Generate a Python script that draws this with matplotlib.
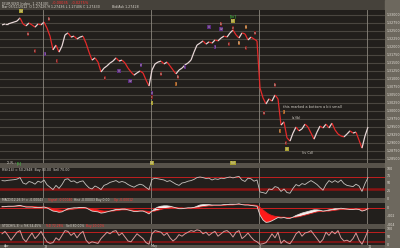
import numpy as np
import matplotlib
matplotlib.use("Agg")
import matplotlib.pyplot as plt
from matplotlib.collections import LineCollection

# hourly closes
close = [1.3269, 1.3272, 1.3272, 1.3275, 1.3278, 1.3281, 1.3291, 1.3272, 1.3266, 1.3275,
         1.3269, 1.3262, 1.3272, 1.3269, 1.3278, 1.3259, 1.3234, 1.3191, 1.3206, 1.3184,
         1.3203, 1.3238, 1.3244, 1.3231, 1.3234, 1.3225, 1.3231, 1.3234, 1.3212, 1.3184,
         1.3159, 1.3166, 1.3153, 1.3122, 1.3134, 1.3141, 1.3150, 1.3156, 1.3166, 1.3156,
         1.3159, 1.3150, 1.3134, 1.3122, 1.3112, 1.3119, 1.3125, 1.3119, 1.3097, 1.3078,
         1.3128, 1.3147, 1.3153, 1.3156, 1.3147, 1.3153, 1.3141, 1.3128, 1.3116, 1.3128,
         1.3134, 1.3144, 1.3150, 1.3159, 1.3184, 1.3206, 1.3212, 1.3219, 1.3209, 1.3216,
         1.3212, 1.3222, 1.3219, 1.3228, 1.3234, 1.3231, 1.3244, 1.3253, 1.3238, 1.3228,
         1.3244, 1.3241, 1.3222, 1.3231, 1.3225, 1.3219, 1.3072, 1.3041, 1.3022, 1.3038,
         1.3031, 1.3050, 1.3038, 1.2956, 1.2966, 1.2916, 1.2906, 1.2931, 1.2950, 1.2938,
         1.2944, 1.2959, 1.2950, 1.2931, 1.2912, 1.2934, 1.2953, 1.2947, 1.2959, 1.2947,
         1.2962, 1.2941, 1.2928, 1.2922, 1.2919, 1.2928, 1.2938, 1.2931, 1.2934, 1.2909,
         1.2884, 1.2922, 1.2950]

rsi = [58, 57, 59, 60, 61, 63, 68, 50, 46, 55,
       52, 46, 56, 52, 60, 44, 36, 28, 42, 32,
       45, 62, 64, 55, 57, 50, 55, 57, 44, 34,
       30, 40, 35, 28, 42, 46, 52, 55, 58, 52,
       55, 52, 45, 40, 36, 42, 46, 43, 35, 28,
       62, 66, 64, 62, 60, 55, 58, 52, 46, 42,
       50, 52, 56, 58, 62, 68, 70, 68, 65, 66,
       60, 64, 62, 66, 65, 68, 70, 67, 70, 72,
       60, 55, 66, 64, 56, 60, 20, 18, 15, 30,
       28, 38, 35, 22, 30, 18, 16, 32, 45, 40,
       48, 45, 52, 58, 52, 45, 35, 26, 45, 58,
       52, 58, 52, 60, 48, 42, 40, 38, 46, 40,
       22, 48, 68]

macd = [.0003, .0003, .0004, .0004, .0004, .0005, .0006, .0004, .0002, .0002,
        .0002, .0001, .0001, .0001, .0002, .0000, -.0004, -.0008, -.0009, -.0011,
        -.0010, -.0006, -.0002, -.0001, .0000, .0000, .0001, .0001, .0000, -.0004,
        -.0008, -.0009, -.0010, -.0013, -.0012, -.0010, -.0008, -.0006, -.0004, -.0004,
        -.0003, -.0003, -.0005, -.0007, -.0009, -.0009, -.0008, -.0008, -.0011, -.0015,
        -.0008, -.0002, .0002, .0004, .0005, .0005, .0004, .0002, .0000, -.0002,
        -.0002, -.0001, .0000, .0000, .0001, .0004, .0007, .0008, .0008, .0008,
        .0007, .0007, .0007, .0007, .0008, .0008, .0009, .0009, .0009, .0010,
        .0008, .0007, .0007, .0006, .0005, .0004, -.0018, -.0030, -.0036, -.0035,
        -.0032, -.0028, -.0024, -.0025, -.0024, -.0026, -.0026, -.0023, -.0019, -.0016,
        -.0013, -.0011, -.0009, -.0007, -.0005, -.0005, -.0006, -.0008, -.0007, -.0005,
        -.0004, -.0002, -.0002, -.0001, -.0002, -.0003, -.0004, -.0004, -.0003, -.0004,
        -.0008, -.0006, -.0002]

signal = [.0002, .0003, .0003, .0003, .0004, .0004, .0004, .0004, .0004, .0003,
          .0003, .0003, .0002, .0002, .0002, .0001, .0000, -.0002, -.0004, -.0005,
          -.0006, -.0006, -.0005, -.0004, -.0003, -.0002, -.0001, .0000, .0000, -.0001,
          -.0002, -.0004, -.0005, -.0007, -.0008, -.0008, -.0008, -.0008, -.0007, -.0006,
          -.0005, -.0005, -.0005, -.0005, -.0006, -.0007, -.0007, -.0007, -.0008, -.0009,
          -.0009, -.0008, -.0006, -.0004, -.0002, -.0001, .0000, .0001, .0001, .0000,
          .0000, -.0001, -.0001, -.0001, .0000, .0000, .0002, .0003, .0004, .0005,
          .0005, .0006, .0006, .0006, .0006, .0007, .0007, .0007, .0008, .0008,
          .0008, .0008, .0008, .0007, .0007, .0006, .0001, -.0005, -.0011, -.0016,
          -.0019, -.0021, -.0022, -.0023, -.0023, -.0024, -.0024, -.0024, -.0023, -.0022,
          -.0020, -.0018, -.0016, -.0014, -.0012, -.0010, -.0009, -.0009, -.0008, -.0008,
          -.0007, -.0006, -.0005, -.0004, -.0004, -.0004, -.0004, -.0004, -.0004, -.0004,
          -.0005, -.0005, -.0004]

stoch = [70, 85, 60, 30, 55, 80, 90, 40, 20, 50,
         75, 40, 60, 85, 50, 20, 10, 15, 45, 30,
         60, 90, 85, 60, 75, 45, 70, 85, 30, 10,
         20, 15, 10, 40, 60, 80, 70, 85, 90, 60,
         75, 50, 25, 20, 45, 70, 55, 40, 15, 5,
         70, 90, 85, 80, 60, 75, 45, 25, 40, 65,
         55, 70, 80, 90, 85, 95, 90, 70, 80, 60,
         75, 85, 55, 70, 85, 90, 75, 50, 80, 90,
         40, 55, 75, 50, 30, 20, 5, 8, 15, 40,
         70, 45, 80, 10, 30, 15, 8, 35, 70, 85,
         55, 75, 80, 90, 65, 40, 15, 35, 80, 60,
         85, 70, 90, 45, 25, 30, 20, 40, 75, 30,
         5, 45, 90]

price_ticks = [1.3300 - 0.0025 * k for k in range(19)]
week_breaks = [13.7, 49.7, 85.7, 121.7]
date_labels = ["Apr", "13", "May", "4", "11"]
date_pos = [0.5, 13.7, 49.7, 85.7, 121.7]

W, H = 400, 248
BG = "#221f1c"
fig = plt.figure(figsize=(4, 2.48), dpi=100, facecolor="#57524a")


def px_axes(x0, y0, x1, y1):
    ax = fig.add_axes([x0 / W, 1 - y1 / H, (x1 - x0) / W, (y1 - y0) / H])
    ax.set_facecolor(BG)
    for s in ax.spines.values():
        s.set_visible(False)
    return ax


def ftext(x, y, s, **kw):
    kw.setdefault("fontsize", 2.7)
    kw.setdefault("color", "#d8d4cc")
    kw.setdefault("va", "center")
    fig.text(x / W, 1 - y / H, s, **kw)


def right_scale(ax, ticks, labels):
    ax.yaxis.tick_right()
    ax.set_yticks(ticks)
    ax.set_yticklabels(labels, fontsize=2.3, color="#e4e0d8")
    ax.tick_params(axis="y", length=0, pad=1.5)
    ax.set_xticks([])


# header strip and right scale strip
fig.patches.append(plt.Rectangle((0, 1 - 10 / H), 1, 10 / H, transform=fig.transFigure,
                                 color="#46423b", zorder=-2))
fig.patches.append(plt.Rectangle((385 / W, 0), 15 / W, 1, transform=fig.transFigure,
                                 color="#6d685e", zorder=-1))

n = len(close)
x = np.arange(n)
xlim = (-0.67, 127.67)

# ---- price panel
ax = px_axes(0, 10, 385, 163)
ax.set_xlim(*xlim)
top = 1.3300 + 5 * 0.0003125
ax.set_ylim(top - 153 * 0.0003125, top)
for p in price_ticks:
    ax.axhline(p, color="#4a4640", lw=0.8, zorder=1)
for wb in week_breaks:
    ax.axvline(wb, color="#8c877e", lw=0.6, zorder=1)
pts = np.column_stack([x, close])
segs = np.stack([pts[:-1], pts[1:]], axis=1)
cols = ["#e52a2a" if close[i + 1] < close[i] else "#e6d6d6" for i in range(n - 1)]
ax.add_collection(LineCollection(segs, colors=cols, linewidths=0.9, zorder=3))
right_scale(ax, price_ticks, [f"{p:.5f}" for p in price_ticks])

# ---- RSI
ax2 = px_axes(0, 168, 385, 198)
ax2.set_xlim(*xlim)
ax2.set_ylim(0, 100)
ax2.axhline(70, color="#c02020", lw=0.7)
ax2.axhline(30, color="#8a1414", lw=1.8)
for wb in week_breaks:
    ax2.axvline(wb, color="#8c877e", lw=0.6)
ax2.plot(x, rsi, color="#c8c4c0", lw=0.6)
right_scale(ax2, [100, 75, 50, 25, 0], ["100", "75", "50", "25", "0"])

# ---- MACD
ax3 = px_axes(0, 203, 385, 224)
ax3.set_xlim(*xlim)
ax3.set_ylim(-0.0040, 0.0012)
ax3.axhline(0, color="#d02020", lw=0.7)
for wb in week_breaks:
    ax3.axvline(wb, color="#8c877e", lw=0.6)
m = np.array(macd)
sg = np.array(signal)
ax3.fill_between(x, m, sg, where=m < sg, color="#ff1a1a", lw=0, interpolate=True)
ax3.fill_between(x, m, sg, where=m >= sg, color="#f4f0ee", lw=0, interpolate=True)
ax3.plot(x, sg, color="#e02020", lw=0.6)
ax3.plot(x, m, color="#dedad6", lw=0.6)
right_scale(ax3, [0, -0.002, -0.004], ["0", "-.002", "-.004"])

# ---- Stochastic
ax4 = px_axes(0, 229, 385, 245)
ax4.set_xlim(*xlim)
ax4.set_ylim(0, 100)
ax4.axhline(80, color="#c02020", lw=0.7)
ax4.axhline(20, color="#8a1414", lw=1.2)
for wb in week_breaks:
    ax4.axvline(wb, color="#8c877e", lw=0.6)
ax4.plot(x, stoch, color="#d49a9a", lw=0.7)
right_scale(ax4, [100, 50, 0], ["100", "50", "0"])
for lab, pos in zip(date_labels, date_pos):
    ftext((pos + 0.67) * 3, 246.5, lab, fontsize=2.4, ha="left")

# ---- texts
ftext(2, 3, "[EUR/USD Index  1.27430]", ha="left", fontsize=2.5)
ftext(52, 3, "-0.00035   -0.0275%", ha="left", color="#ff3030", fontsize=2.5)
ftext(2, 6.8, "Bar 05/11/2012  O 1.27426 H 1.27436 L 1.27406 C 1.27430", ha="left", fontsize=2.3)
ftext(112, 6.8, "Bid/Ask 1.27428", ha="left", fontsize=2.3)
ftext(2, 169.5, "RSI(14) = 50.2948  Buy 30.00  Sell 70.00", ha="left", fontsize=2.3)
ftext(2, 200, "MACD(12,26,9) = -0.00043", ha="left", fontsize=2.2)
ftext(48, 200, "Signal -0.00040", ha="left", fontsize=2.2, color="#ff3030")
ftext(74, 200, "Hist -0.00003 Buy 0.00", ha="left", fontsize=2.2)
ftext(114, 200, "Up -0.00012", ha="left", fontsize=2.2, color="#ff3030")
ftext(2, 226, "STOCH(5,3) = %K 54.45%", ha="left", fontsize=2.2)
ftext(46, 226, "%D 72.28%", ha="left", fontsize=2.2, color="#ff3030")
ftext(66, 226, "Sell 80.00%", ha="left", fontsize=2.2)
ftext(86, 226, "Buy 20.00%", ha="left", fontsize=2.2, color="#ff3030")
ftext(7, 163, "\u03a3.R. :", ha="left", fontsize=2.6)
ftext(17, 163, "[5]", ha="left", fontsize=2.6, color="#40d040")
ftext(283, 107, "this marked a bottom a bit small", ha="left", fontsize=2.5)
ftext(296, 118, "(a)(b)", ha="center", fontsize=2.4)
ftext(308, 153, "(iv Cd)", ha="center", fontsize=2.4)

# wave labels
waves = [(21, 11, "#a8a030", "iv"), (49, 19, "#7a1a1a", "b"), (28, 34, "#7a1a1a", "a"),
         (35, 51, "#7a1a1a", "c"), (45, 54, "#5a2a80", "i"), (57, 61, "#7a1a1a", "ii"),
         (105, 78, "#7a1a1a", "c"), (119, 71, "#5a2a80", "iii"), (130, 81, "#5a2a80", "iv"),
         (141, 65, "#5a2a80", "v"), (161, 74, "#7a1a1a", "a"), (152, 93, "#5a2a80", "v"),
         (152, 97, "#7a1a1a", "c"), (152, 103, "#a8a030", "ii"), (178, 77, "#7a1a1a", "b"),
         (176, 84, "#a05a20", "i"), (185, 67, "#5a2a80", "ii"), (209, 27, "#5a2a80", "iii"),
         (221, 29, "#5a2a80", "iv"), (221, 24, "#7a1a1a", "b"), (233, 28, "#7a1a1a", "v"),
         (233, 21, "#a8a030", "(v)"), (246, 27, "#a05a20", "a"), (229, 44, "#7a1a1a", "c"),
         (255, 33, "#7a1a1a", "a"), (239, 43, "#a05a20", "b"), (215, 47, "#5a2a80", "i"),
         (246, 48, "#7a1a1a", "c"), (275, 85, "#7a1a1a", "b"), (264, 113, "#7a1a1a", "a"),
         (284, 112, "#a05a20", "i"), (280, 131, "#a05a20", "ii"), (286, 143, "#7a1a1a", "c"),
         (287, 149, "#a8a030", "iii"), (152, 163, "#a8a030", "Cd"), (233, 163, "#a8a030", "(iii)")]
for wx, wy, c, t in waves:
    ftext(wx, wy, t, ha="center", fontsize=2.2, color="#e8e0d0",
          bbox=dict(boxstyle="square,pad=0.15", fc=c, ec="none"))
ftext(233, 16, "[iv]", ha="center", fontsize=3, color="#40d040")

fig.savefig("out.png", dpi=100, facecolor=fig.get_facecolor())
